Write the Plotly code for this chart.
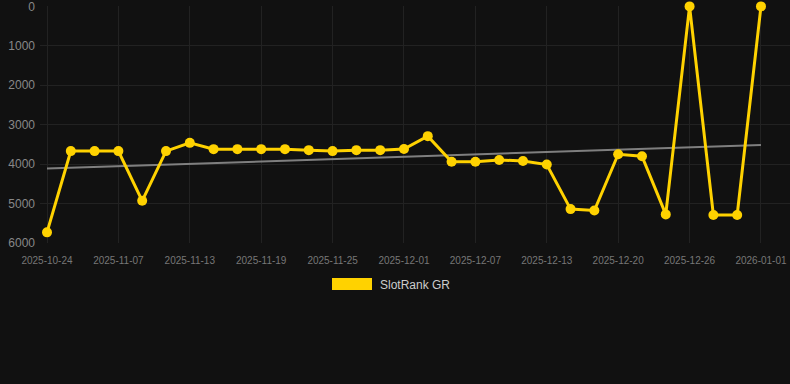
import numpy as np
import plotly.graph_objects as go

dates = ["2025-10-24", "2025-10-29", "2025-11-03", "2025-11-07", "2025-11-09", "2025-11-11",
         "2025-11-13", "2025-11-15", "2025-11-17", "2025-11-19", "2025-11-21", "2025-11-23",
         "2025-11-25", "2025-11-27", "2025-11-29", "2025-12-01", "2025-12-03", "2025-12-05",
         "2025-12-07", "2025-12-09", "2025-12-11", "2025-12-13", "2025-12-15", "2025-12-17",
         "2025-12-20", "2025-12-22", "2025-12-24", "2025-12-26", "2025-12-28", "2025-12-30",
         "2026-01-01"]
rank = [5730, 3670, 3670, 3670, 4930, 3670, 3460, 3620, 3620, 3620, 3620, 3645,
        3670, 3645, 3645, 3615, 3290, 3940, 3940, 3895, 3920, 4010, 5140, 5175,
        3750, 3800, 5275, 0, 5290, 5290, 0]
tick_labels = dates[::3]
y_ticks = [0, 1000, 2000, 3000, 4000, 5000, 6000]

idx = np.arange(len(dates))
coef = np.polyfit(idx, rank, 1)
trend = np.polyval(coef, idx)

fig = go.Figure()
fig.add_trace(go.Scatter(x=dates, y=trend, mode="lines",
                         line=dict(color="rgba(140,140,140,0.9)", width=2),
                         hoverinfo="skip", showlegend=False))
fig.add_trace(go.Scatter(x=dates, y=rank, mode="lines+markers", name="SlotRank GR",
                         line=dict(color="#FFD200", width=3),
                         marker=dict(color="#FFD200", size=10),
                         cliponaxis=False, showlegend=False))

fig.update_layout(
    width=790, height=384,
    margin=dict(l=40, r=0, t=6, b=141),
    paper_bgcolor="#111111", plot_bgcolor="#111111",
    font=dict(family="Liberation Sans, Arial, sans-serif", color="#888888"),
    xaxis=dict(type="category", range=[-0.294, 31.22], tickmode="array",
               tickvals=tick_labels, ticktext=tick_labels,
               tickfont=dict(size=10, color="#777777"),
               showgrid=True, gridcolor="#222222", gridwidth=1,
               zeroline=False, showline=False, ticks="", ticklabelstandoff=10),
    yaxis=dict(range=[6000, -10], tickvals=y_ticks,
               tickfont=dict(size=12, color="#888888"),
               showgrid=True, gridcolor="#222222", gridwidth=1,
               zeroline=False, showline=False, ticks="", ticklabelstandoff=4,
               ticklabeloverflow="allow"),
    showlegend=False,
    shapes=[dict(type="rect", xref="paper", yref="paper",
                 x0=(332 - 40) / 750, x1=(372 - 40) / 750,
                 y0=(243 - 290) / 237, y1=(243 - 278) / 237,
                 fillcolor="#FFD200", line=dict(width=0))],
    annotations=[dict(text="SlotRank GR", xref="paper", yref="paper",
                      x=(378 - 40) / 750, y=(243 - 284.5) / 237,
                      xanchor="left", yanchor="middle", showarrow=False,
                      font=dict(size=12, color="#cccccc"))],
)

fig.write_html("out.html", config={"displayModeBar": False},
               post_script="document.body.style.margin='0';document.body.style.background='#111111';")
